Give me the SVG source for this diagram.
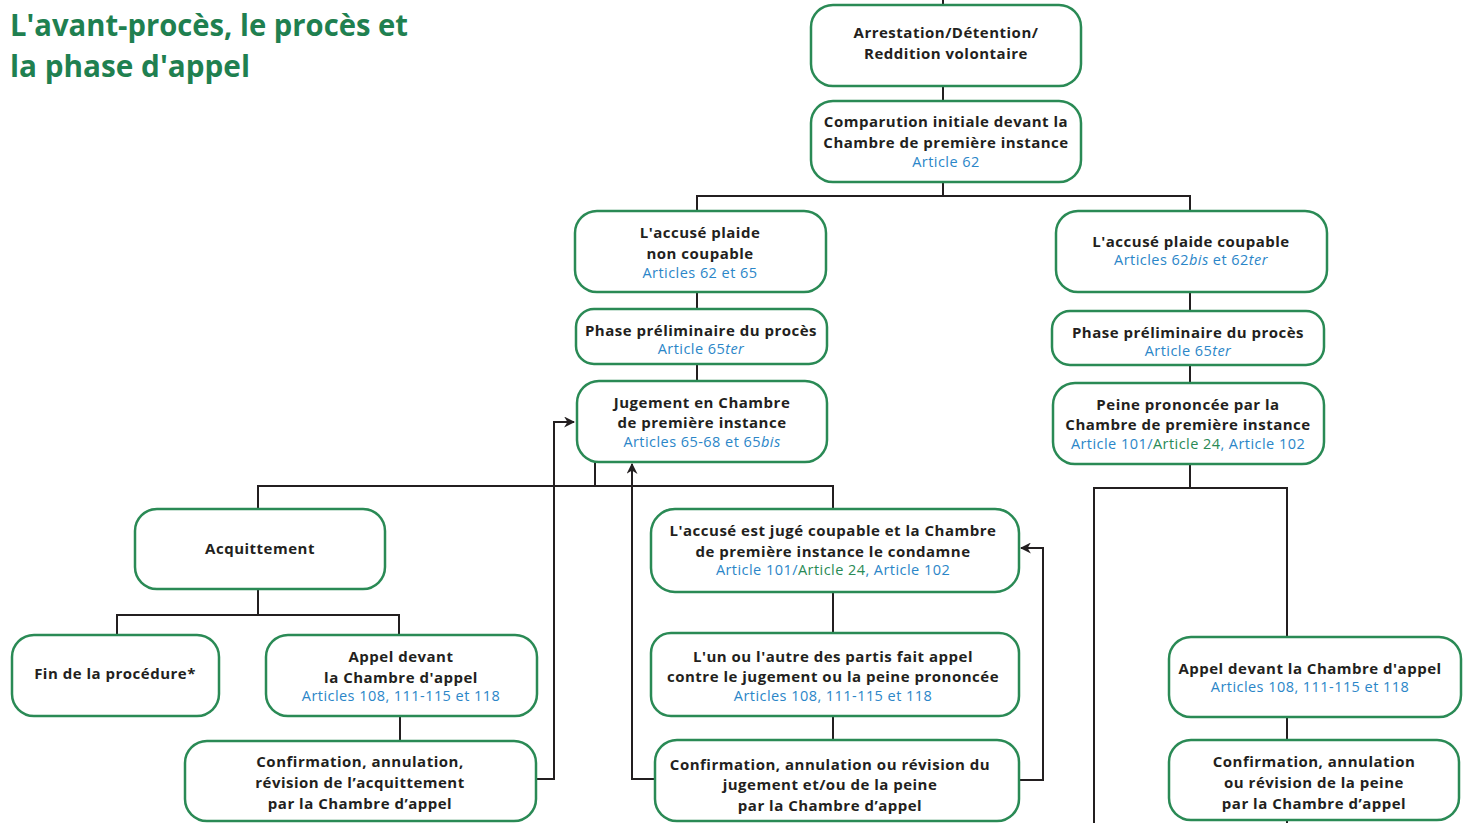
<svg xmlns="http://www.w3.org/2000/svg" width="1478" height="823" viewBox="0 0 1478 823">
<defs>
<marker id="arr" viewBox="0 0 10 10" refX="9" refY="5" markerWidth="11" markerHeight="11" markerUnits="userSpaceOnUse" orient="auto">
<path d="M0,0 L10,5 L0,10 L3,5 Z" fill="#231f20"/>
</marker>
<style>
.box{fill:#fff;stroke:#2a8a55;stroke-width:2.5}
.t{font-family:"Open Sans","Liberation Sans",sans-serif;font-weight:700;font-size:15px;fill:#231f20;text-anchor:middle;letter-spacing:0.5px}
.a{font-family:"Open Sans","Liberation Sans",sans-serif;font-weight:400;font-size:14.5px;fill:#2b86c8;text-anchor:middle;letter-spacing:0.45px}
.g{fill:#2a8a55}
.i{font-style:italic}
.c{fill:none;stroke:#231f20;stroke-width:2}
.title{font-family:"Open Sans","Liberation Sans",sans-serif;font-weight:700;font-size:31px;fill:#1f8050}
</style>
</defs>
<rect width="1478" height="823" fill="#fff"/>
<g id="title">
<text class="title" x="10" y="36" textLength="398" lengthAdjust="spacingAndGlyphs">L'avant-procès, le procès et</text>
<text class="title" x="10" y="77" textLength="240" lengthAdjust="spacingAndGlyphs">la phase d'appel</text>
</g>
<g id="connectors">
<path class="c" d="M943,0 V5"/>
<path class="c" d="M943,86 V101"/>
<path class="c" d="M943,182 V196 M697,211 V196 H1190 V211"/>
<path class="c" d="M697,292 V309"/>
<path class="c" d="M697,364 V381"/>
<path class="c" d="M1190,292 V311"/>
<path class="c" d="M1190,365 V383"/>
<path class="c" d="M595,462 V486 M258,509 V486 H833 V509"/>
<path class="c" d="M258,589 V615 M117,635 V615 H399 V635"/>
<path class="c" d="M400,716 V741"/>
<path class="c" d="M833,592 V633"/>
<path class="c" d="M833,716 V740"/>
<path class="c" d="M1190,464 V488 M1094,823 V488 H1287 V637"/>
<path class="c" d="M1287,717 V740"/>
<path class="c" d="M1287,820 V823"/>
<path class="c" d="M536,779 H554 V422 H574" marker-end="url(#arr)"/>
<path class="c" d="M655,779 H632 V464" marker-end="url(#arr)"/>
<path class="c" d="M1019,780 H1043 V548 H1021" marker-end="url(#arr)"/>
</g>
<g id="n-arrestation">
<rect class="box" x="811" y="5" width="270" height="81" rx="22"/>
<text class="t" x="946" y="38">Arrestation/Détention/</text>
<text class="t" x="946" y="59">Reddition volontaire</text>
</g>
<g id="n-comparution">
<rect class="box" x="811" y="101" width="270" height="81" rx="22"/>
<text class="t" x="946" y="127">Comparution initiale devant la</text>
<text class="t" x="946" y="148">Chambre de première instance</text>
<text class="a" x="946" y="167">Article 62</text>
</g>
<g id="n-noncoupable">
<rect class="box" x="575" y="211" width="251" height="81" rx="22"/>
<text class="t" x="700" y="238">L'accusé plaide</text>
<text class="t" x="700" y="259">non coupable</text>
<text class="a" x="700" y="278">Articles 62 et 65</text>
</g>
<g id="n-coupable">
<rect class="box" x="1056" y="211" width="271" height="81" rx="22"/>
<text class="t" x="1191" y="247">L'accusé plaide coupable</text>
<text class="a" x="1191" y="265">Articles 62<tspan class="i">bis</tspan> et 62<tspan class="i">ter</tspan></text>
</g>
<g id="n-phase-gauche">
<rect class="box" x="576" y="309" width="251" height="55" rx="18"/>
<text class="t" x="701" y="336">Phase préliminaire du procès</text>
<text class="a" x="701" y="354">Article 65<tspan class="i">ter</tspan></text>
</g>
<g id="n-phase-droite">
<rect class="box" x="1052" y="311" width="272" height="54" rx="18"/>
<text class="t" x="1188" y="338">Phase préliminaire du procès</text>
<text class="a" x="1188" y="356">Article 65<tspan class="i">ter</tspan></text>
</g>
<g id="n-jugement">
<rect class="box" x="577" y="381" width="250" height="81" rx="22"/>
<text class="t" x="702" y="408">Jugement en Chambre</text>
<text class="t" x="702" y="428">de première instance</text>
<text class="a" x="702" y="447">Articles 65-68 et 65<tspan class="i">bis</tspan></text>
</g>
<g id="n-peine">
<rect class="box" x="1053" y="383" width="271" height="81" rx="22"/>
<text class="t" x="1188" y="410">Peine prononcée par la</text>
<text class="t" x="1188" y="430">Chambre de première instance</text>
<text class="a" x="1188" y="449">Article 101/<tspan class="g">Article 24</tspan>, Article 102</text>
</g>
<g id="n-acquittement">
<rect class="box" x="135" y="509" width="250" height="80" rx="22"/>
<text class="t" x="260" y="554">Acquittement</text>
</g>
<g id="n-juge-coupable">
<rect class="box" x="651" y="509" width="368" height="83" rx="24"/>
<text class="t" x="833" y="536">L'accusé est jugé coupable et la Chambre</text>
<text class="t" x="833" y="557">de première instance le condamne</text>
<text class="a" x="833" y="575">Article 101/<tspan class="g">Article 24</tspan>, Article 102</text>
</g>
<g id="n-fin">
<rect class="box" x="12" y="635" width="207" height="81" rx="22"/>
<text class="t" x="115" y="679">Fin de la procédure*</text>
</g>
<g id="n-appel-gauche">
<rect class="box" x="266" y="635" width="271" height="81" rx="22"/>
<text class="t" x="401" y="662">Appel devant</text>
<text class="t" x="401" y="683">la Chambre d'appel</text>
<text class="a" x="401" y="701">Articles 108, 111-115 et 118</text>
</g>
<g id="n-appel-milieu">
<rect class="box" x="651" y="633" width="368" height="83" rx="20"/>
<text class="t" x="833" y="662">L'un ou l'autre des partis fait appel</text>
<text class="t" x="833" y="682">contre le jugement ou la peine prononcée</text>
<text class="a" x="833" y="701">Articles 108, 111-115 et 118</text>
</g>
<g id="n-appel-droite">
<rect class="box" x="1169" y="637" width="292" height="80" rx="22"/>
<text class="t" x="1310" y="674">Appel devant la Chambre d'appel</text>
<text class="a" x="1310" y="692">Articles 108, 111-115 et 118</text>
</g>
<g id="n-confirmation-gauche">
<rect class="box" x="185" y="741" width="351" height="80" rx="22"/>
<text class="t" x="360" y="767">Confirmation, annulation,</text>
<text class="t" x="360" y="788">révision de l’acquittement</text>
<text class="t" x="360" y="809">par la Chambre d’appel</text>
</g>
<g id="n-confirmation-milieu">
<rect class="box" x="655" y="740" width="364" height="81" rx="22"/>
<text class="t" x="830" y="770">Confirmation, annulation ou révision du</text>
<text class="t" x="830" y="790">jugement et/ou de la peine</text>
<text class="t" x="830" y="811">par la Chambre d’appel</text>
</g>
<g id="n-confirmation-droite">
<rect class="box" x="1169" y="740" width="290" height="80" rx="22"/>
<text class="t" x="1314" y="767">Confirmation, annulation</text>
<text class="t" x="1314" y="788">ou révision de la peine</text>
<text class="t" x="1314" y="809">par la Chambre d’appel</text>
</g>
</svg>
